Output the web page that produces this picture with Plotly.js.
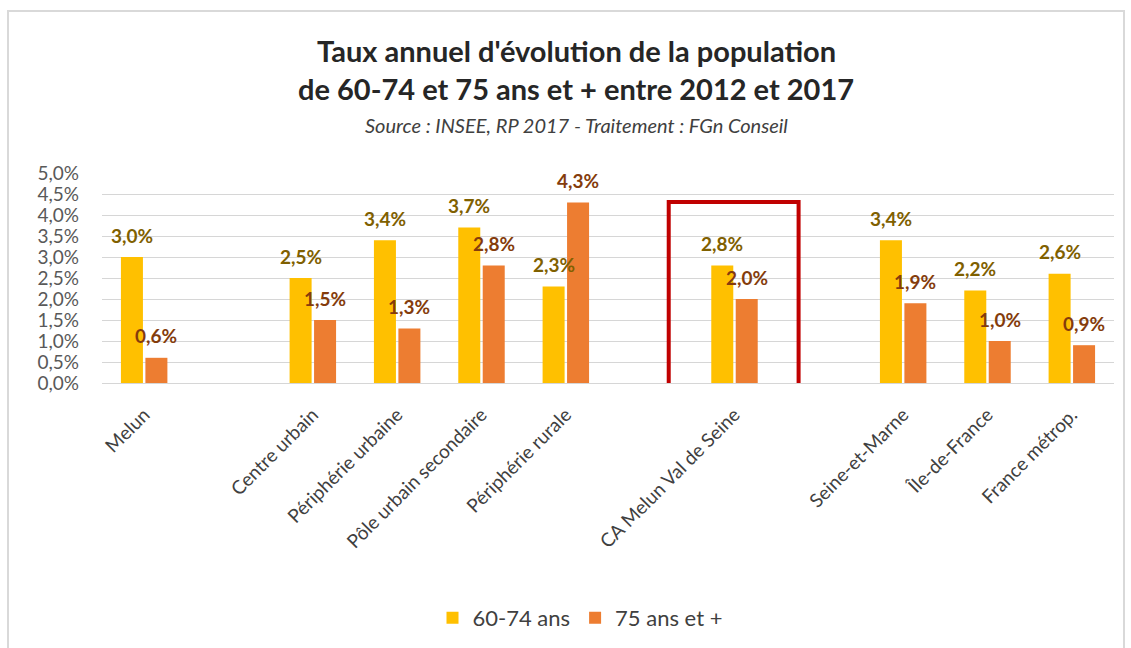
<!DOCTYPE html>
<html>
<head>
<meta charset="utf-8">
<script src="https://cdn.plot.ly/plotly-3.0.1.min.js"></script>
<style>html,body{margin:0;padding:0;background:#fff;}#chart{width:1131px;height:648px;}</style>
</head>
<body>
<div id="chart"></div>
<script>
// Categories (blank slots are spacing gaps in the original chart)
const categories = ["Melun", " ", "Centre urbain", "Périphérie urbaine", "Pôle urbain secondaire", "Périphérie rurale", "  ", "CA Melun Val de Seine", "   ", "Seine-et-Marne", "Île-de-France", "France métrop."];
const ages6074 = [3.0, null, 2.5, 3.4, 3.7, 2.3, null, 2.8, null, 3.4, 2.2, 2.6];
const ages75plus = [0.6, null, 1.5, 1.3, 2.8, 4.3, null, 2.0, null, 1.9, 1.0, 0.9];
const seriesNames = ["60-74 ans", "75 ans et +"];
const yTickVals = [0, 0.5, 1, 1.5, 2, 2.5, 3, 3.5, 4, 4.5, 5];
const yTickLabels = ["0,0%", "0,5%", "1,0%", "1,5%", "2,0%", "2,5%", "3,0%", "3,5%", "4,0%", "4,5%", "5,0%"];
const titleLine1 = "Taux annuel d'évolution de la population";
const titleLine2 = "de 60-74 et 75 ans et + entre 2012 et 2017";
const subtitle = "Source : INSEE, RP 2017 - Traitement : FGn Conseil";

const FONT = "Lato, 'Open Sans', sans-serif";
const fmt = v => v.toFixed(1).replace('.', ',') + '%';

const traces = [
  {type: 'bar', name: seriesNames[0], x: categories, y: ages6074, marker: {color: '#FFC000'}, hoverinfo: 'skip'},
  {type: 'bar', name: seriesNames[1], x: categories, y: ages75plus, marker: {color: '#ED7D31'}, hoverinfo: 'skip'}
];

const annotations = [];
[[ages6074, -12.3, '#7F6000'], [ages75plus, 12.3, '#843C0C']].forEach(([vals, xs, col]) => {
  vals.forEach((v, i) => {
    if (v === null) return;
    annotations.push({x: categories[i], y: v, xref: 'x', yref: 'y', text: '<b>' + fmt(v) + '</b>',
      showarrow: false, xshift: xs, yshift: 22, yanchor: 'middle', xanchor: 'center',
      font: {family: FONT, size: 19, color: col}});
  });
});
const tx = (576 - 102) / 1012;
const py = p => (383 - p) / 210;
annotations.push({xref: 'paper', yref: 'paper', x: tx, y: py(50), text: '<b>' + titleLine1 + '</b>', showarrow: false, xanchor: 'center', yanchor: 'middle', font: {family: FONT, size: 29, color: '#262626'}});
annotations.push({xref: 'paper', yref: 'paper', x: tx, y: py(88), text: '<b>' + titleLine2 + '</b>', showarrow: false, xanchor: 'center', yanchor: 'middle', font: {family: FONT, size: 29, color: '#262626'}});
annotations.push({xref: 'paper', yref: 'paper', x: tx, y: py(125), text: '<i>' + subtitle + '</i>', showarrow: false, xanchor: 'center', yanchor: 'middle', font: {family: FONT, size: 20, color: '#404040'}});

const caIdx = categories.indexOf("CA Melun Val de Seine");
const shapes = [
  {type: 'rect', xref: 'paper', yref: 'paper', x0: (8 - 102) / 1012, x1: (1124 - 102) / 1012, y0: py(660), y1: py(11), line: {color: '#d9d9d9', width: 2}, layer: 'below'},
  {type: 'rect', xref: 'x', yref: 'y', x0: caIdx - 0.78, x1: caIdx + 0.76, y0: -0.4, y1: 4.31, line: {color: '#C00000', width: 4}}
];

const layout = {
  width: 1131, height: 648,
  margin: {l: 102, r: 17, t: 173, b: 265},
  paper_bgcolor: '#ffffff', plot_bgcolor: '#ffffff',
  barmode: 'group', bargap: 0.42, bargroupgap: 0.1,
  font: {family: FONT, color: '#404040'},
  xaxis: {type: 'category', tickangle: -45, showgrid: false, showline: false, ticks: '', zeroline: false,
    tickfont: {family: FONT, size: 19, color: '#404040'}, ticklabelstandoff: 16, fixedrange: true},
  yaxis: {range: [0, 5], tickmode: 'array', tickvals: yTickVals, ticktext: yTickLabels, showgrid: true, gridcolor: '#d6d6d6', gridwidth: 1,
    zeroline: true, zerolinecolor: '#d6d6d6', zerolinewidth: 1, showline: false, ticks: '',
    tickfont: {family: FONT, size: 19, color: '#595959'}, ticklabelstandoff: 22, fixedrange: true},
  showlegend: true,
  legend: {orientation: 'h', xref: 'container', yref: 'container', x: 580 / 1131, xanchor: 'center', y: (648 - 618) / 648, yanchor: 'middle',
    font: {family: FONT, size: 22, color: '#404040'}, itemwidth: 30, bgcolor: 'rgba(0,0,0,0)'},
  annotations: annotations,
  shapes: shapes
};

Plotly.newPlot('chart', traces, layout, {staticPlot: true, displayModeBar: false});
</script>
</body>
</html>
